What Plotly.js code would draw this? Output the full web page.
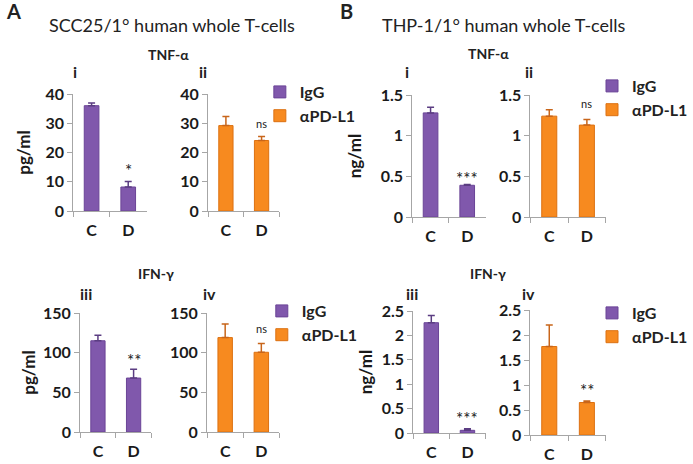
<!DOCTYPE html>
<html>
<head>
<meta charset="utf-8">
<script src="https://cdn.plot.ly/plotly-3.0.1.min.js"></script>
<style>body{margin:0;background:#fff}</style>
</head>
<body>
<div id="myPlot" style="width:693px;height:464px"></div>
<script>
// x categories
var cats = ['C', 'D'];

// panel A - SCC25 co-culture (pg/ml)
var tnfA_IgG = [36.0, 8.2],  tnfA_IgG_err = [0.9, 1.9];
var tnfA_PD  = [29.2, 24.1], tnfA_PD_err  = [3.1, 1.4];
var ifnA_IgG = [115, 68],    ifnA_IgG_err = [7, 11];
var ifnA_PD  = [119, 100.5], ifnA_PD_err  = [17, 11];

// panel B - THP-1 co-culture (ng/ml)
var tnfB_IgG = [1.28, 0.39], tnfB_IgG_err = [0.07, 0.01];
var tnfB_PD  = [1.24, 1.13], tnfB_PD_err  = [0.08, 0.07];
var ifnB_IgG = [2.26, 0.055], ifnB_IgG_err = [0.15, 0.03];
var ifnB_PD  = [1.77, 0.65], ifnB_PD_err  = [0.43, 0.03];

// significance marks above D, one per subplot
var sigText = ['*', 'ns', '**', 'ns', '***', 'ns', '***', '**'];
var sigY    = [15.5, 30, 97, 130, 0.54, 1.40, 0.40, 1.0];

// y axis ranges / tick steps per subplot
var yTop  = [40, 40, 150, 150, 1.5, 1.5, 2.5, 2.5];
var yStep = [10, 10, 50, 50, 0.5, 0.5, 0.5, 0.5];

var purple = '#8058ac', purpleEdge = '#6a4496', purpleErr = '#5b3d82';
var orange = '#f78a1f', orangeEdge = '#dc7112', orangeErr = '#c8651a';
var font = 'Lato, "Open Sans", sans-serif';

// pixel helpers (page is 693 x 464, no margins)
function px(x) { return x / 693; }
function py(y) { return 1 - y / 464; }

// subplot boxes in pixels: [left, right, top, bottom]
var boxes = [
    [75, 150, 94, 211], [213, 286, 94, 211],
    [82, 155, 313, 432], [212, 286, 313, 432],
    [422, 497, 95, 217], [543, 620, 95, 217],
    [423, 497, 311, 433], [543, 620, 310, 435]
];

function bar(n, name, y, err, isIgG, legend) {
    return {
        type: 'bar',
        x: cats,
        y: y,
        name: name,
        legend: legend,
        xaxis: 'x' + (n === 1 ? '' : n),
        yaxis: 'y' + (n === 1 ? '' : n),
        marker: {
            color: isIgG ? purple : orange,
            line: { color: isIgG ? purpleEdge : orangeEdge, width: 1 }
        },
        error_y: {
            type: 'data', symmetric: false, array: err,
            arrayminus: [0, 0],
            color: isIgG ? purpleErr : orangeErr,
            thickness: 1.5, width: 3.5
        },
        hoverinfo: 'x+y'
    };
}

var data = [
    bar(1, 'IgG', tnfA_IgG, tnfA_IgG_err, true, 'legend'),
    bar(2, 'αPD-L1', tnfA_PD, tnfA_PD_err, false, 'legend'),
    bar(3, 'IgG', ifnA_IgG, ifnA_IgG_err, true, 'legend2'),
    bar(4, 'αPD-L1', ifnA_PD, ifnA_PD_err, false, 'legend2'),
    bar(5, 'IgG', tnfB_IgG, tnfB_IgG_err, true, 'legend3'),
    bar(6, 'αPD-L1', tnfB_PD, tnfB_PD_err, false, 'legend3'),
    bar(7, 'IgG', ifnB_IgG, ifnB_IgG_err, true, 'legend4'),
    bar(8, 'αPD-L1', ifnB_PD, ifnB_PD_err, false, 'legend4')
];

var legendFont = { family: font, size: 16, color: '#222', weight: 'bold' };
function legendAt(x, y) {
    return { x: px(x), y: py(y), xanchor: 'left', yanchor: 'top',
             bgcolor: 'rgba(0,0,0,0)', font: legendFont };
}

var layout = {
    width: 693, height: 464,
    margin: { l: 0, r: 0, t: 0, b: 0 },
    paper_bgcolor: '#fff', plot_bgcolor: '#fff',
    font: { family: font, color: '#222' },
    bargap: 0.6,
    legend: legendAt(266, 75),
    legend2: legendAt(268, 294),
    legend3: legendAt(606, 69),
    legend4: legendAt(606, 296),
    annotations: []
};

var yTitles = ['pg/ml', '', 'pg/ml', '', 'ng/ml', '', 'ng/ml', ''];
var yStandoff = [10, 0, 3, 0, 14, 0, 4, 0];
var tickFont = { family: font, size: 16, color: '#1a1a1a', weight: 'bold' };

boxes.forEach(function (b, i) {
    var k = i === 0 ? '' : (i + 1);
    layout['xaxis' + k] = {
        domain: [px(b[0]), px(b[1])],
        anchor: 'y' + k,
        type: 'category',
        showline: true, linecolor: '#a6a6a6', linewidth: 1,
        ticks: 'outside', tickson: 'boundaries', ticklen: 5, tickcolor: '#a6a6a6',
        ticklabelstandoff: 5,
        tickfont: tickFont,
        showgrid: false, zeroline: false, fixedrange: true
    };
    layout['yaxis' + k] = {
        domain: [py(b[3]), py(b[2])],
        anchor: 'x' + k,
        range: [0, yTop[i]], dtick: yStep[i],
        showline: true, linecolor: '#a6a6a6', linewidth: 1,
        ticks: 'outside', ticklen: 5, tickcolor: '#a6a6a6',
        tickfont: tickFont,
        showgrid: false, zeroline: false, fixedrange: true,
        title: { text: yTitles[i], standoff: yStandoff[i],
                 font: { family: font, size: 17, color: '#1a1a1a', weight: 'bold' } }
    };
    // significance mark above D
    var isStar = sigText[i] !== 'ns';
    layout.annotations.push({
        xref: 'x' + k, yref: 'y' + k, x: 'D', y: sigY[i],
        text: sigText[i], showarrow: false,
        yshift: isStar ? -5 : 0,
        font: { family: font, size: isStar ? 17 : 11, color: '#222' }
    });
});

// panel letters, titles, cytokine headers and roman numerals
var labels = [
    ['<b>A</b>', 4, 11, 20, 'left'],
    ['<b>B</b>', 346, 11, 20, 'left'],
    ['SCC25/1° human whole T-cells', 176, 25, 18, 'center'],
    ['THP-1/1° human whole T-cells', 516, 25, 18, 'center'],
    ['<b>TNF-α</b>', 172, 55, 14, 'center'],
    ['<b>TNF-α</b>', 500, 53, 14, 'center'],
    ['<b>IFN-γ</b>', 160, 273, 14, 'center'],
    ['<b>IFN-γ</b>', 500, 273, 14, 'center'],
    ['<b>i</b>', 77, 72, 16, 'center'],
    ['<b>ii</b>', 208, 72, 16, 'center'],
    ['<b>iii</b>', 88, 293, 16, 'center'],
    ['<b>iv</b>', 214, 293, 16, 'center'],
    ['<b>i</b>', 417, 72, 16, 'center'],
    ['<b>ii</b>', 541, 72, 16, 'center'],
    ['<b>iii</b>', 422, 293, 16, 'center'],
    ['<b>iv</b>', 541, 293, 16, 'center']
];
labels.forEach(function (l) {
    layout.annotations.push({
        xref: 'paper', yref: 'paper', x: px(l[1]), y: py(l[2]),
        xanchor: l[4], yanchor: 'middle', text: l[0], showarrow: false,
        font: { family: font, size: l[3], color: '#222' }
    });
});

Plotly.newPlot('myPlot', data, layout, { displayModeBar: false, staticPlot: true });
</script>
</body>
</html>
